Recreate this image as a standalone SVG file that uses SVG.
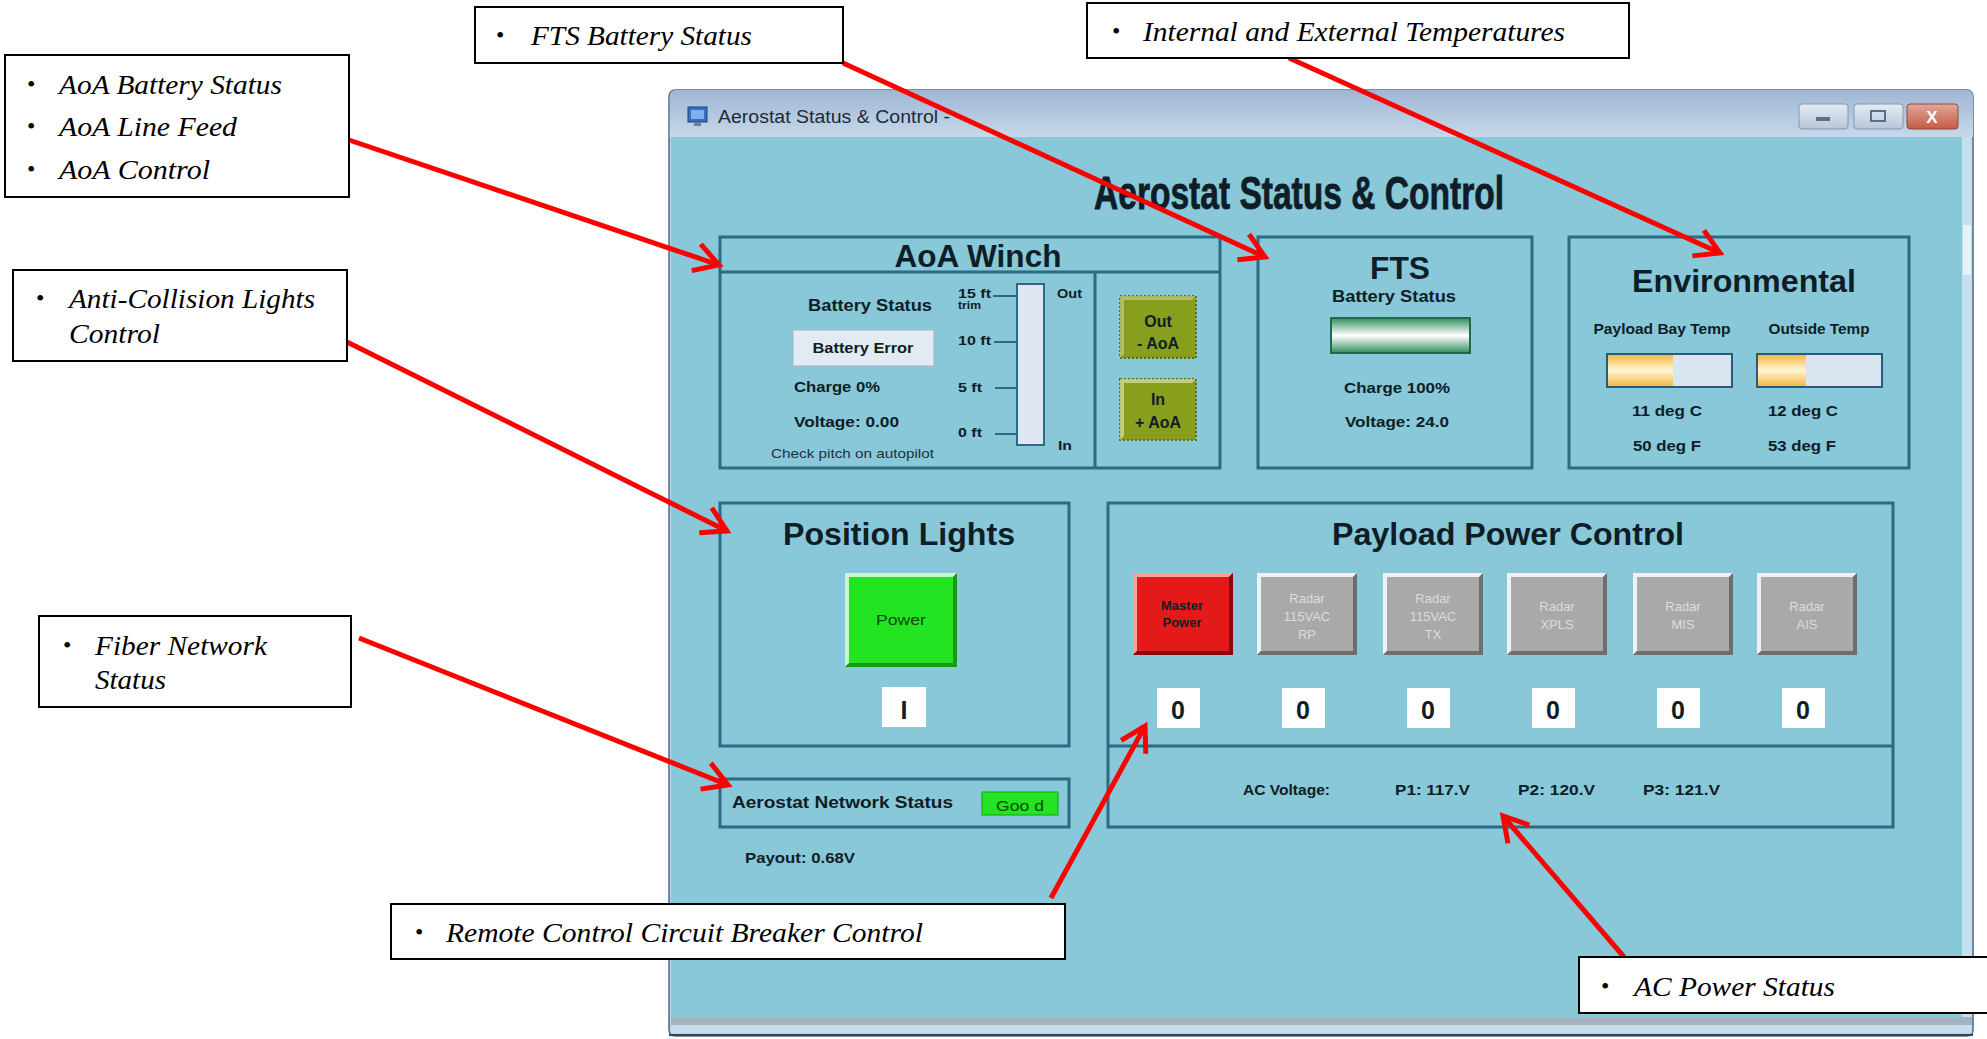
<svg xmlns="http://www.w3.org/2000/svg" width="1987" height="1039" viewBox="0 0 1987 1039">
<defs>
<style>
.ui{font-family:"Liberation Sans",Arial,sans-serif;font-weight:bold;fill:#0f1d26}
.t{font-family:"Liberation Sans Narrow","Liberation Sans",Arial,sans-serif;font-weight:bold;fill:#0f1d26}
.cap{font-family:"Liberation Serif","Times New Roman",serif;font-style:italic;font-size:28px;fill:#000}
.bul{font-family:"Liberation Serif","Times New Roman",serif;font-size:24px;fill:#000}
.panel{fill:none;stroke:#2b6b83;stroke-width:3}
.callout{fill:#fff;stroke:#000;stroke-width:2}
.conn{stroke:#f00;stroke-width:5;fill:none;marker-end:url(#ah)}
.zero{fill:#fff}
.gbtn{fill:#a9a9a9}
.glab{font-family:"Liberation Sans",Arial,sans-serif;font-size:13px;fill:#dcdcdc;text-anchor:middle}
.m{text-anchor:middle}
</style>
<marker id="ah" markerUnits="userSpaceOnUse" viewBox="-30 -18 38 36" refX="0" refY="0" markerWidth="38" markerHeight="36" orient="auto">
<path d="M-24,-14 L0,0 L-24,14" fill="none" stroke="#f00" stroke-width="5"/>
</marker>
<linearGradient id="tbar" x1="0" y1="0" x2="0" y2="1"><stop offset="0" stop-color="#9fb6d4"/><stop offset="1" stop-color="#c6d9ea"/></linearGradient>
<linearGradient id="wbtn" x1="0" y1="0" x2="0" y2="1"><stop offset="0" stop-color="#e4ecf5"/><stop offset="1" stop-color="#b6c7da"/></linearGradient>
<linearGradient id="cbtn" x1="0" y1="0" x2="0" y2="1"><stop offset="0" stop-color="#e2a898"/><stop offset="1" stop-color="#c65a48"/></linearGradient>
<linearGradient id="gbar" x1="0" y1="0" x2="0" y2="1"><stop offset="0" stop-color="#2f8f5f"/><stop offset="0.5" stop-color="#ffffff"/><stop offset="1" stop-color="#2f8f5f"/></linearGradient>
<linearGradient id="obar" x1="0" y1="0" x2="0" y2="1"><stop offset="0" stop-color="#f2b43c"/><stop offset="0.5" stop-color="#fff6d6"/><stop offset="1" stop-color="#f2b43c"/></linearGradient>
</defs>

<g id="window">
<rect x="669" y="90" width="1304" height="946" rx="6" fill="#bcd2e6" stroke="#4e6a84" stroke-width="1.5"/>
<path d="M669.75,137 V96 a6,6 0 0 1 6,-6 H1967 a6,6 0 0 1 6,6 V137 Z" fill="url(#tbar)"/>
<rect x="671" y="137" width="1291" height="881" fill="#88c8d8"/>
<rect x="1962" y="137" width="10" height="881" fill="#c4dfee"/>
<rect x="1963" y="225" width="8" height="50" fill="#e6f2f8"/>
<rect x="671" y="1017" width="1301" height="8" fill="#a4b3c2"/>
<rect x="671" y="1025" width="1301" height="8" fill="#c8dcea"/>
<line x1="669" y1="1035" x2="1973" y2="1035" stroke="#30485e" stroke-width="2"/>
<rect x="688" y="107" width="19" height="15" fill="#3a6fc0" stroke="#20407a" stroke-width="1"/>
<rect x="691" y="110" width="13" height="9" fill="#7fb0ee"/>
<rect x="694" y="122" width="7" height="4" fill="#6c8090"/>
<text x="718" y="123" font-family="'Liberation Sans',Arial,sans-serif" font-size="18" fill="#1d2a36" textLength="232" lengthAdjust="spacingAndGlyphs">Aerostat Status &amp; Control -</text>
<rect x="1799" y="104" width="49" height="25" rx="3" fill="url(#wbtn)" stroke="#8198b2"/>
<rect x="1816" y="117" width="14" height="4" fill="#5c6f86"/>
<rect x="1854" y="104" width="49" height="25" rx="3" fill="url(#wbtn)" stroke="#8198b2"/>
<rect x="1871" y="111" width="14" height="10" fill="none" stroke="#5c6f86" stroke-width="2"/>
<rect x="1907" y="104" width="51" height="25" rx="3" fill="url(#cbtn)" stroke="#8a4a40"/>
<text x="1932" y="123" class="m" font-family="'Liberation Sans',Arial,sans-serif" font-weight="bold" font-size="17" fill="#fff">X</text>
<text x="1299" y="209" class="t m" font-size="46" stroke="#0f1d26" stroke-width="0.8" textLength="410" lengthAdjust="spacingAndGlyphs">Aerostat Status &amp; Control</text>
</g>

<g id="aoa-winch">
<rect x="720" y="237" width="500" height="231" class="panel"/>
<line x1="720" y1="272" x2="1220" y2="272" stroke="#2b6b83" stroke-width="3"/>
<line x1="1095" y1="272" x2="1095" y2="468" stroke="#2b6b83" stroke-width="3"/>
<text x="978" y="267" class="ui m" font-size="31" textLength="167" lengthAdjust="spacingAndGlyphs">AoA Winch</text>
<text x="870" y="311" class="ui m" font-size="17" textLength="124" lengthAdjust="spacingAndGlyphs" fill="#1e3040">Battery Status</text>
<rect x="793" y="330" width="141" height="36" fill="#e2eaf2" stroke="#9fb8c8" stroke-width="1"/>
<text x="863" y="353" class="ui m" font-size="15" textLength="101" lengthAdjust="spacingAndGlyphs">Battery Error</text>
<text x="794" y="392" class="ui" font-size="15" textLength="86" lengthAdjust="spacingAndGlyphs">Charge 0%</text>
<text x="794" y="427" class="ui" font-size="15" textLength="105" lengthAdjust="spacingAndGlyphs">Voltage: 0.00</text>
<text x="771" y="458" font-family="'Liberation Sans',Arial,sans-serif" font-size="13" fill="#1e3040" textLength="163" lengthAdjust="spacingAndGlyphs">Check pitch on autopilot</text>
<text x="958" y="298" class="ui" font-size="13" textLength="33" lengthAdjust="spacingAndGlyphs">15 ft</text>
<text x="958" y="309" class="ui" font-size="11" textLength="23" lengthAdjust="spacingAndGlyphs">trim</text>
<text x="958" y="345" class="ui" font-size="13" textLength="33" lengthAdjust="spacingAndGlyphs">10 ft</text>
<text x="958" y="392" class="ui" font-size="13" textLength="24" lengthAdjust="spacingAndGlyphs">5 ft</text>
<text x="958" y="437" class="ui" font-size="13" textLength="24" lengthAdjust="spacingAndGlyphs">0 ft</text>
<g stroke="#2b6b83" stroke-width="2">
<line x1="993" y1="296" x2="1017" y2="296"/>
<line x1="994" y1="342" x2="1017" y2="342"/>
<line x1="995" y1="388" x2="1017" y2="388"/>
<line x1="995" y1="434" x2="1017" y2="434"/>
</g>
<rect x="1017" y="284" width="27" height="161" fill="#dde6f2" stroke="#2b6b83" stroke-width="2"/>
<text x="1057" y="298" class="ui" font-size="13" textLength="25" lengthAdjust="spacingAndGlyphs">Out</text>
<text x="1058" y="450" class="ui" font-size="13" textLength="14" lengthAdjust="spacingAndGlyphs">In</text>
<rect x="1120" y="296" width="76" height="62" fill="#879f1c" stroke="#5f7010" stroke-width="2" stroke-dasharray="2 2"/>
<path d="M1120,296 H1196 L1192,300 H1124 V354 L1120,358 Z" fill="#c9d79a" opacity="0.6"/>
<text x="1158" y="327" class="ui m" font-size="16" fill="#2c3a06">Out</text>
<text x="1158" y="349" class="ui m" font-size="16" fill="#2c3a06">- AoA</text>
<rect x="1120" y="379" width="76" height="61" fill="#879f1c" stroke="#5f7010" stroke-width="2" stroke-dasharray="2 2"/>
<path d="M1120,379 H1196 L1192,383 H1124 V436 L1120,440 Z" fill="#e8eec0" opacity="0.6"/>
<text x="1158" y="405" class="ui m" font-size="16" fill="#2c3a06">In</text>
<text x="1158" y="428" class="ui m" font-size="16" fill="#2c3a06">+ AoA</text>
</g>

<g id="fts">
<rect x="1258" y="237" width="274" height="231" class="panel"/>
<text x="1400" y="279" class="ui m" font-size="31" textLength="60" lengthAdjust="spacingAndGlyphs">FTS</text>
<text x="1394" y="302" class="ui m" font-size="16" textLength="124" lengthAdjust="spacingAndGlyphs" fill="#1e3040">Battery Status</text>
<rect x="1331" y="318" width="139" height="35" fill="url(#gbar)" stroke="#1f6a4a" stroke-width="2"/>
<text x="1397" y="393" class="ui m" font-size="15" textLength="106" lengthAdjust="spacingAndGlyphs">Charge 100%</text>
<text x="1397" y="427" class="ui m" font-size="15" textLength="104" lengthAdjust="spacingAndGlyphs">Voltage: 24.0</text>
</g>

<g id="environmental">
<rect x="1569" y="237" width="340" height="231" class="panel"/>
<text x="1744" y="292" class="ui m" font-size="32" textLength="224" lengthAdjust="spacingAndGlyphs">Environmental</text>
<text x="1662" y="334" class="ui m" font-size="14" textLength="137" lengthAdjust="spacingAndGlyphs" fill="#1e3040">Payload Bay Temp</text>
<text x="1819" y="334" class="ui m" font-size="14" textLength="101" lengthAdjust="spacingAndGlyphs" fill="#1e3040">Outside Temp</text>
<rect x="1607" y="354" width="125" height="33" fill="#d8e6f2"/>
<rect x="1607" y="354" width="66" height="33" fill="url(#obar)"/>
<rect x="1607" y="354" width="125" height="33" fill="none" stroke="#2a5a7a" stroke-width="2"/>
<rect x="1757" y="354" width="125" height="33" fill="#d8e6f2"/>
<rect x="1757" y="354" width="49" height="33" fill="url(#obar)"/>
<rect x="1757" y="354" width="125" height="33" fill="none" stroke="#2a5a7a" stroke-width="2"/>
<text x="1667" y="416" class="ui m" font-size="15" textLength="70" lengthAdjust="spacingAndGlyphs">11 deg C</text>
<text x="1667" y="451" class="ui m" font-size="15" textLength="68" lengthAdjust="spacingAndGlyphs">50 deg F</text>
<text x="1803" y="416" class="ui m" font-size="15" textLength="70" lengthAdjust="spacingAndGlyphs">12 deg C</text>
<text x="1802" y="451" class="ui m" font-size="15" textLength="68" lengthAdjust="spacingAndGlyphs">53 deg F</text>
</g>

<g id="position-lights">
<rect x="720" y="503" width="349" height="243" class="panel"/>
<text x="899" y="545" class="ui m" font-size="32" textLength="232" lengthAdjust="spacingAndGlyphs">Position Lights</text>
<rect x="845" y="573" width="112" height="94" fill="#22e422"/>
<path d="M845,573 H957 L953,577 H849 V663 L845,667 Z" fill="#c8f8c8"/>
<path d="M957,573 V667 H845 L849,663 H953 V577 Z" fill="#149a14"/>
<text x="901" y="625" font-family="'Liberation Sans',Arial,sans-serif" font-size="15" class="m" fill="#0c4a0c" textLength="50" lengthAdjust="spacingAndGlyphs">Power</text>
<rect x="882" y="687" width="44" height="40" class="zero"/>
<text x="904" y="719" class="ui m" font-size="25" fill="#2a1a2a">I</text>
</g>

<g id="network-status">
<rect x="720" y="779" width="349" height="48" class="panel"/>
<text x="732" y="808" class="ui" font-size="17" textLength="221" lengthAdjust="spacingAndGlyphs" fill="#1e3040">Aerostat Network Status</text>
<rect x="982" y="792" width="76" height="23" fill="#22e422" stroke="#14a014" stroke-width="1"/>
<text x="1020" y="811" font-family="'Liberation Sans',Arial,sans-serif" font-size="15" class="m" fill="#0c4a0c" textLength="48" lengthAdjust="spacingAndGlyphs">Goo d</text>
<text x="745" y="863" class="ui" font-size="15" textLength="110" lengthAdjust="spacingAndGlyphs" fill="#1e3040">Payout: 0.68V</text>
</g>

<g id="payload-power">
<rect x="1108" y="503" width="785" height="324" class="panel"/>
<line x1="1108" y1="746" x2="1893" y2="746" stroke="#2b6b83" stroke-width="3"/>
<text x="1508" y="545" class="ui m" font-size="32" textLength="352" lengthAdjust="spacingAndGlyphs">Payload Power Control</text>
<g id="btn-master">
<rect x="1133" y="573" width="100" height="82" fill="#e41a1a"/>
<path d="M1133,573 H1233 L1229,577 H1137 V651 L1133,655 Z" fill="#f6a0a0"/>
<path d="M1233,573 V655 H1133 L1137,651 H1229 V577 Z" fill="#8a0a0a"/>
<text x="1182" y="610" class="ui m" font-size="13" fill="#5a0000">Master</text>
<text x="1182" y="627" class="ui m" font-size="13" fill="#5a0000">Power</text>
</g>
<g id="btn-rp">
<rect x="1257" y="573" width="100" height="82" class="gbtn"/>
<path d="M1257,573 H1357 L1353,577 H1261 V651 L1257,655 Z" fill="#eef2f6"/>
<path d="M1357,573 V655 H1257 L1261,651 H1353 V577 Z" fill="#6e6e6e"/>
<text x="1307" y="603" class="glab">Radar</text><text x="1307" y="621" class="glab">115VAC</text><text x="1307" y="639" class="glab">RP</text>
</g>
<g id="btn-tx">
<rect x="1383" y="573" width="100" height="82" class="gbtn"/>
<path d="M1383,573 H1483 L1479,577 H1387 V651 L1383,655 Z" fill="#eef2f6"/>
<path d="M1483,573 V655 H1383 L1387,651 H1479 V577 Z" fill="#6e6e6e"/>
<text x="1433" y="603" class="glab">Radar</text><text x="1433" y="621" class="glab">115VAC</text><text x="1433" y="639" class="glab">TX</text>
</g>
<g id="btn-xpls">
<rect x="1507" y="573" width="100" height="82" class="gbtn"/>
<path d="M1507,573 H1607 L1603,577 H1511 V651 L1507,655 Z" fill="#eef2f6"/>
<path d="M1607,573 V655 H1507 L1511,651 H1603 V577 Z" fill="#6e6e6e"/>
<text x="1557" y="611" class="glab">Radar</text><text x="1557" y="629" class="glab">XPLS</text>
</g>
<g id="btn-mis">
<rect x="1633" y="573" width="100" height="82" class="gbtn"/>
<path d="M1633,573 H1733 L1729,577 H1637 V651 L1633,655 Z" fill="#eef2f6"/>
<path d="M1733,573 V655 H1633 L1637,651 H1729 V577 Z" fill="#6e6e6e"/>
<text x="1683" y="611" class="glab">Radar</text><text x="1683" y="629" class="glab">MIS</text>
</g>
<g id="btn-ais">
<rect x="1757" y="573" width="100" height="82" class="gbtn"/>
<path d="M1757,573 H1857 L1853,577 H1761 V651 L1757,655 Z" fill="#eef2f6"/>
<path d="M1857,573 V655 H1757 L1761,651 H1853 V577 Z" fill="#6e6e6e"/>
<text x="1807" y="611" class="glab">Radar</text><text x="1807" y="629" class="glab">AIS</text>
</g>
<g id="breaker-states">
<rect x="1157" y="688" width="43" height="40" class="zero"/><text x="1178" y="719" class="ui m" font-size="25">0</text>
<rect x="1282" y="688" width="43" height="40" class="zero"/><text x="1303" y="719" class="ui m" font-size="25">0</text>
<rect x="1407" y="688" width="43" height="40" class="zero"/><text x="1428" y="719" class="ui m" font-size="25">0</text>
<rect x="1532" y="688" width="43" height="40" class="zero"/><text x="1553" y="719" class="ui m" font-size="25">0</text>
<rect x="1657" y="688" width="43" height="40" class="zero"/><text x="1678" y="719" class="ui m" font-size="25">0</text>
<rect x="1782" y="688" width="43" height="40" class="zero"/><text x="1803" y="719" class="ui m" font-size="25">0</text>
</g>
<text x="1243" y="795" class="ui" font-size="15" textLength="87" lengthAdjust="spacingAndGlyphs" fill="#1e3040">AC Voltage:</text>
<text x="1395" y="795" class="ui" font-size="15" textLength="75" lengthAdjust="spacingAndGlyphs" fill="#1e3040">P1: 117.V</text>
<text x="1518" y="795" class="ui" font-size="15" textLength="77" lengthAdjust="spacingAndGlyphs" fill="#1e3040">P2: 120.V</text>
<text x="1643" y="795" class="ui" font-size="15" textLength="77" lengthAdjust="spacingAndGlyphs" fill="#1e3040">P3: 121.V</text>
</g>

<g id="connectors">
<line class="conn" x1="349" y1="140" x2="719" y2="265"/>
<line class="conn" x1="843" y1="63" x2="1265" y2="257"/>
<line class="conn" x1="1289" y1="58" x2="1720" y2="253"/>
<line class="conn" x1="347" y1="342" x2="727" y2="531"/>
<line class="conn" x1="359" y1="638" x2="728" y2="785"/>
<line class="conn" x1="1051" y1="898" x2="1145" y2="726"/>
<line class="conn" x1="1624" y1="957" x2="1503" y2="816"/>
</g>

<g id="callout-aoa">
<rect x="5" y="55" width="344" height="142" class="callout"/>
<text x="27" y="92" class="bul">•</text><text x="59" y="94" class="cap" textLength="223" lengthAdjust="spacingAndGlyphs">AoA Battery Status</text>
<text x="27" y="134" class="bul">•</text><text x="59" y="136" class="cap" textLength="178" lengthAdjust="spacingAndGlyphs">AoA Line Feed</text>
<text x="27" y="177" class="bul">•</text><text x="59" y="179" class="cap" textLength="151" lengthAdjust="spacingAndGlyphs">AoA Control</text>
</g>
<g id="callout-fts">
<rect x="475" y="7" width="368" height="56" class="callout"/>
<text x="496" y="43" class="bul">•</text><text x="531" y="45" class="cap" textLength="221" lengthAdjust="spacingAndGlyphs">FTS Battery Status</text>
</g>
<g id="callout-temps">
<rect x="1087" y="3" width="542" height="55" class="callout"/>
<text x="1112" y="39" class="bul">•</text><text x="1143" y="41" class="cap" textLength="422" lengthAdjust="spacingAndGlyphs">Internal and External Temperatures</text>
</g>
<g id="callout-anticollision">
<rect x="13" y="270" width="334" height="91" class="callout"/>
<text x="36" y="306" class="bul">•</text><text x="69" y="308" class="cap" textLength="246" lengthAdjust="spacingAndGlyphs">Anti-Collision Lights</text>
<text x="69" y="343" class="cap" textLength="91" lengthAdjust="spacingAndGlyphs">Control</text>
</g>
<g id="callout-fiber">
<rect x="39" y="616" width="312" height="91" class="callout"/>
<text x="63" y="653" class="bul">•</text><text x="95" y="655" class="cap" textLength="172" lengthAdjust="spacingAndGlyphs">Fiber Network</text>
<text x="95" y="689" class="cap" textLength="71" lengthAdjust="spacingAndGlyphs">Status</text>
</g>
<g id="callout-remote">
<rect x="391" y="904" width="674" height="55" class="callout"/>
<text x="415" y="940" class="bul">•</text><text x="446" y="942" class="cap" textLength="477" lengthAdjust="spacingAndGlyphs">Remote Control Circuit Breaker Control</text>
</g>
<g id="callout-ac">
<rect x="1579" y="957" width="420" height="56" class="callout"/>
<text x="1601" y="994" class="bul">•</text><text x="1634" y="996" class="cap" textLength="201" lengthAdjust="spacingAndGlyphs">AC Power Status</text>
</g>
</svg>
